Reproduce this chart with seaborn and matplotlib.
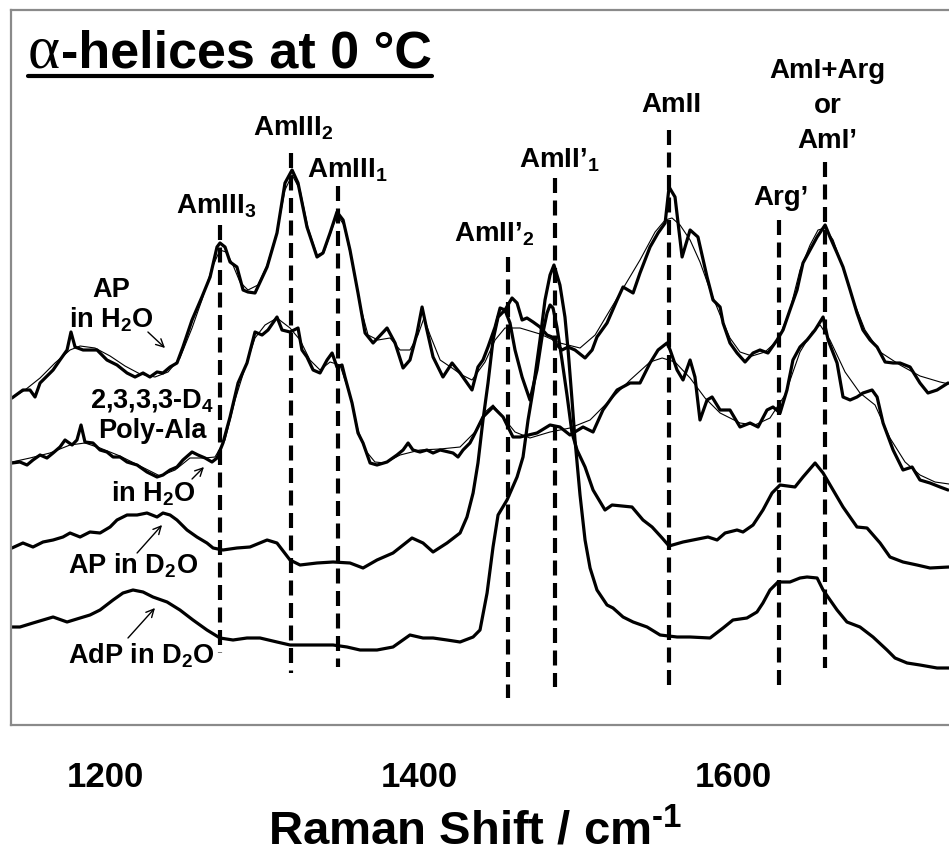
import matplotlib
matplotlib.use("Agg")
import numpy as np
import pandas as pd
import seaborn as sns
import matplotlib.pyplot as plt
import matplotlib.transforms as mtransforms
from matplotlib.lines import Line2D

# ---------------- data (Raman shift in cm-1, stacked intensity, arb. units) ----------------
ap_h2o_x = [1129.3, 1136.3, 1140.8, 1144.0, 1147.2, 1155.5, 1159.9, 1164.4, 1166.9, 1169.5,
            1174.6, 1183.5, 1189.8, 1196.2, 1202.6, 1207.7, 1212.8, 1217.2, 1221.7, 1225.5,
            1230.0, 1234.4, 1238.2, 1244.0, 1250.3, 1255.5, 1259.9, 1261.8, 1265.0, 1268.2,
            1272.6, 1276.5, 1279.6, 1284.1, 1291.8, 1298.1, 1303.2, 1307.7, 1311.5, 1317.2,
            1323.6, 1327.4, 1331.9, 1336.3, 1340.2, 1344.6, 1349.7, 1354.2, 1359.3, 1368.2,
            1373.3, 1378.4, 1382.8, 1387.3, 1390.5, 1393.6, 1397.5, 1403.8, 1409.6, 1414.7,
            1422.3, 1426.1, 1429.3, 1432.5, 1437.0, 1440.2, 1443.3, 1447.8, 1451.0, 1454.2,
            1457.3, 1461.2, 1465.6, 1470.1, 1473.3, 1476.4, 1479.6, 1483.5, 1487.9, 1494.3,
            1498.8, 1501.9, 1508.3, 1514.7, 1518.5, 1524.9, 1529.3, 1535.7, 1540.8, 1545.3,
            1547.8, 1551.6, 1556.1, 1561.2, 1566.2, 1572.0, 1575.8, 1580.3, 1582.2, 1586.6,
            1591.1, 1596.2, 1601.3, 1605.7, 1610.8, 1616.6, 1620.4, 1624.8, 1629.3, 1633.1,
            1637.6, 1642.1, 1647.2, 1650.3, 1654.8, 1658.6, 1663.1, 1667.5, 1671.3, 1675.8,
            1680.3, 1685.4, 1690.5, 1694.9, 1701.3, 1707.6, 1712.7, 1718.5, 1725.5]
ap_h2o_y = [327, 335, 335, 328, 342, 355, 365, 375, 393, 378,
            375, 375, 365, 360, 352, 348, 352, 348, 353, 352,
            358, 362, 378, 405, 428, 448, 478, 482, 478, 463,
            458, 435, 433, 432, 458, 492, 542, 555, 542, 498,
            468, 472, 492, 513, 505, 475, 432, 392, 382, 397,
            382, 357, 365, 392, 418, 395, 368, 348, 362, 352,
            335, 358, 365, 378, 398, 417, 415, 427, 422, 405,
            407, 403, 398, 390, 388, 380, 375, 378, 375, 367,
            375, 388, 402, 425, 438, 432, 452, 478, 492, 502,
            538, 528, 468, 495, 488, 448, 425, 418, 402, 382,
            372, 363, 372, 375, 372, 385, 395, 415, 435, 462,
            475, 488, 500, 488, 472, 458, 435, 412, 395, 385,
            378, 363, 362, 362, 358, 342, 332, 335, 342]

ap_h2o_fit_x = [1129.3, 1137.6, 1147.2, 1156.7, 1166.3, 1172.7, 1182.2, 1191.8, 1201.3, 1210.9,
                1220.4, 1228.7, 1236.3, 1244.0, 1250.3, 1256.7, 1261.8, 1265.6, 1269.5, 1274.5,
                1279.6, 1286.0, 1291.8, 1298.1, 1303.2, 1307.7, 1312.8, 1317.9, 1323.6, 1328.1,
                1332.5, 1336.3, 1340.8, 1345.9, 1351.0, 1356.1, 1362.4, 1370.1, 1376.5, 1382.8,
                1387.9, 1391.7, 1395.6, 1402.0, 1409.6, 1415.9, 1422.3, 1430.6, 1437.0, 1443.3,
                1452.9, 1465.6, 1478.3, 1491.1, 1500.7, 1510.2, 1519.8, 1529.3, 1538.9, 1545.3,
                1549.7, 1554.8, 1561.2, 1567.5, 1573.9, 1580.3, 1586.6, 1593.0, 1600.6, 1608.9,
                1617.2, 1624.8, 1631.2, 1637.6, 1642.7, 1647.2, 1652.3, 1658.6, 1665.0, 1672.6,
                1682.2, 1694.9, 1707.6, 1720.4, 1726.1]
ap_h2o_fit_y = [327, 335, 347, 362, 375, 379, 377, 369, 359, 351,
                348, 353, 367, 397, 425, 457, 475, 473, 462, 443,
                435, 440, 460, 493, 535, 550, 535, 497, 470, 473,
                493, 510, 500, 463, 420, 390, 385, 387, 375, 375,
                390, 407, 390, 365, 357, 350, 345, 363, 385, 397,
                397, 391, 382, 377, 390, 415, 440, 465, 493, 505,
                507, 500, 485, 463, 435, 410, 387, 373, 369, 373,
                385, 415, 455, 480, 495, 497, 485, 457, 425, 395,
                373, 360, 349, 343, 341]

d4_x = [1129.3, 1134.4, 1138.9, 1142.7, 1147.2, 1151.6, 1155.5, 1159.9, 1163.1, 1167.6,
        1170.7, 1173.3, 1175.8, 1180.9, 1185.4, 1189.8, 1193.7, 1198.1, 1202.6, 1209.0,
        1215.3, 1221.7, 1225.5, 1230.0, 1234.4, 1238.2, 1244.0, 1247.8, 1252.3, 1256.7,
        1259.9, 1263.7, 1268.2, 1273.3, 1279.0, 1284.1, 1288.6, 1292.4, 1298.1, 1301.3,
        1306.4, 1311.5, 1314.0, 1317.2, 1321.1, 1325.5, 1330.0, 1333.2, 1336.3, 1339.5,
        1341.4, 1345.9, 1349.7, 1352.9, 1357.4, 1361.8, 1368.2, 1374.5, 1378.4, 1381.6,
        1384.7, 1389.2, 1393.6, 1397.5, 1402.0, 1410.2, 1413.4, 1416.6, 1421.0, 1423.0,
        1427.4, 1429.3, 1435.7, 1442.1, 1448.4, 1452.9, 1463.7, 1472.0, 1478.3, 1484.7,
        1493.0, 1499.4, 1505.7, 1514.7, 1523.0, 1529.3, 1535.7, 1540.8, 1546.5, 1548.5,
        1552.9, 1556.7, 1561.2, 1564.3, 1567.5, 1572.0, 1575.2, 1580.3, 1586.6, 1593.0,
        1599.4, 1604.5, 1610.2, 1614.0, 1618.5, 1622.9, 1626.7, 1631.2, 1635.7, 1640.8,
        1645.9, 1649.1, 1654.8, 1658.6, 1663.1, 1667.5, 1671.3, 1677.1, 1680.3, 1684.1,
        1690.5, 1696.8, 1702.6, 1707.6, 1714.0, 1720.4, 1725.5]
d4_y = [262, 263, 260, 265, 270, 267, 272, 278, 285, 280,
        285, 300, 283, 282, 275, 273, 268, 268, 263, 260,
        253, 248, 250, 255, 258, 265, 273, 270, 267, 263,
        267, 282, 308, 342, 362, 393, 390, 395, 408, 395,
        393, 397, 375, 368, 355, 352, 365, 372, 358, 360,
        348, 322, 292, 282, 262, 260, 263, 270, 275, 282,
        275, 273, 275, 272, 275, 272, 268, 275, 282, 288,
        302, 308, 318, 308, 288, 288, 292, 300, 298, 290,
        298, 293, 315, 335, 342, 342, 362, 375, 382, 375,
        355, 345, 365, 348, 305, 325, 328, 315, 315, 298,
        302, 298, 315, 318, 312, 335, 365, 378, 385, 395,
        408, 385, 362, 328, 325, 328, 332, 335, 328, 302,
        275, 255, 258, 245, 242, 238, 235]

d4_fit_x = [1129.3, 1140.8, 1153.5, 1166.3, 1175.8, 1185.4, 1198.1, 1210.9, 1223.6, 1233.2,
            1242.7, 1252.3, 1258.6, 1265.0, 1271.4, 1277.7, 1284.1, 1290.5, 1298.1, 1306.4,
            1312.8, 1319.1, 1325.5, 1331.9, 1338.2, 1344.6, 1349.7, 1354.2, 1360.5, 1366.9,
            1376.5, 1389.2, 1402.0, 1414.7, 1424.2, 1430.6, 1435.7, 1441.4, 1449.7, 1459.2,
            1472.0, 1484.7, 1497.5, 1510.2, 1523.0, 1535.7, 1543.4, 1551.6, 1561.2, 1570.7,
            1580.3, 1593.0, 1602.5, 1612.1, 1621.6, 1631.2, 1638.9, 1644.0, 1650.3, 1659.9,
            1669.4, 1679.0, 1688.5, 1698.1, 1707.6, 1717.2, 1726.1]
d4_fit_y = [263, 267, 272, 280, 282, 277, 269, 259, 249, 255,
            267, 267, 268, 285, 325, 357, 387, 400, 407, 397,
            385, 365, 355, 363, 360, 330, 295, 275, 263, 262,
            270, 275, 276, 278, 293, 313, 320, 309, 293, 287,
            293, 297, 305, 325, 345, 363, 367, 363, 347, 327,
            312, 302, 300, 307, 330, 373, 393, 400, 385, 353,
            332, 320, 287, 263, 250, 243, 241]

ap_d2o_x = [1129.3, 1136.3, 1142.7, 1149.1, 1155.5, 1161.8, 1166.3, 1172.7, 1179.0, 1185.4,
            1191.8, 1196.2, 1202.6, 1209.0, 1215.3, 1221.7, 1225.5, 1230.0, 1234.4, 1240.8,
            1247.1, 1253.5, 1257.4, 1263.7, 1272.6, 1280.9, 1291.8, 1298.1, 1306.4, 1312.8,
            1323.6, 1333.8, 1344.6, 1352.9, 1361.8, 1372.0, 1384.1, 1391.1, 1397.5, 1406.4,
            1414.7, 1419.1, 1423.0, 1426.1, 1429.3, 1432.5, 1435.7, 1438.9, 1443.3, 1446.5,
            1449.7, 1454.2, 1459.2, 1463.7, 1466.9, 1470.1, 1472.0, 1473.9, 1476.4, 1479.6,
            1482.8, 1486.0, 1489.2, 1494.3, 1499.4, 1507.0, 1511.5, 1524.2, 1531.2, 1537.0,
            1543.4, 1547.8, 1556.7, 1572.6, 1578.4, 1583.5, 1591.1, 1594.9, 1601.3, 1607.6,
            1613.4, 1618.5, 1628.0, 1633.1, 1640.8, 1645.9, 1658.6, 1667.5, 1673.9, 1682.2,
            1688.5, 1696.8, 1705.7, 1714.0, 1726.1]
ap_d2o_y = [177, 182, 178, 183, 185, 188, 192, 188, 193, 192,
            198, 205, 210, 210, 212, 208, 212, 210, 205, 195,
            188, 182, 177, 175, 177, 178, 185, 182, 165, 160,
            162, 163, 162, 157, 165, 172, 187, 182, 173, 182,
            192, 208, 232, 262, 305, 342, 385, 408, 415, 402,
            375, 348, 325, 355, 388, 412, 420, 417, 398, 365,
            330, 292, 275, 258, 235, 215, 220, 218, 205, 198,
            187, 179, 183, 188, 185, 192, 195, 193, 200, 215,
            232, 240, 238, 248, 262, 252, 218, 198, 197, 182,
            168, 163, 160, 157, 158]

adp_d2o_x = [1128.1, 1134.4, 1142.7, 1149.1, 1155.5, 1164.4, 1172.7, 1179.0, 1185.4, 1193.7,
             1200.0, 1206.4, 1212.8, 1219.1, 1228.1, 1236.3, 1244.6, 1253.5, 1261.8, 1270.1,
             1279.0, 1287.3, 1298.1, 1306.4, 1312.8, 1323.6, 1333.8, 1342.7, 1351.0, 1361.8,
             1372.0, 1376.5, 1382.8, 1391.1, 1397.5, 1406.4, 1414.7, 1423.0, 1427.4, 1431.9,
             1435.7, 1438.9, 1444.6, 1451.0, 1454.8, 1458.0, 1461.2, 1465.6, 1468.8, 1472.0,
             1474.5, 1478.3, 1481.5, 1483.5, 1486.0, 1487.9, 1491.1, 1494.3, 1497.5, 1501.9,
             1508.3, 1512.1, 1518.5, 1524.9, 1533.8, 1542.1, 1552.9, 1561.2, 1573.9, 1582.2,
             1588.5, 1597.4, 1603.8, 1607.6, 1612.1, 1617.2, 1624.8, 1631.2, 1635.7, 1642.1,
             1645.9, 1654.8, 1661.1, 1669.4, 1677.7, 1686.6, 1691.7, 1699.4, 1707.6, 1718.5,
             1726.1]
adp_d2o_y = [98, 98, 102, 105, 108, 103, 107, 110, 115, 125,
             132, 135, 133, 128, 123, 115, 105, 95, 87, 85,
             87, 87, 83, 80, 80, 80, 80, 78, 75, 75,
             78, 83, 90, 87, 87, 85, 83, 88, 95, 132,
             178, 210, 225, 248, 268, 305, 335, 385, 425, 450,
             460, 440, 408, 375, 325, 285, 230, 185, 157, 135,
             120, 117, 108, 103, 98, 90, 88, 88, 87, 97,
             105, 107, 113, 122, 135, 143, 143, 147, 148, 147,
             135, 115, 103, 98, 88, 75, 67, 62, 60, 57,
             57]

# band assignments (dashed markers)
band_pos = [1261.8, 1307.0, 1337.0, 1445.2, 1475.2, 1547.8, 1617.8, 1647.2]
band_top = [500, 572, 539, 468, 547, 595, 505, 563]
band_bottom = [72, 52, 58, 27, 38, 36, 36, 57]
band_labels = ["AmIII$_3$", "AmIII$_2$", "AmIII$_1$", "AmII’$_2$", "AmII’$_1$",
               "AmII", "Arg’", "AmI+Arg"]
band_label_x = [1259.3, 1308.6, 1343.0, 1436.6, 1477.7, 1549.4, 1619.1, 1648.7]
band_label_y = [512, 590, 547, 483, 558, 613, 520, 647]
extra_labels = ["or", "AmI’"]
extra_label_x = [1649.0, 1648.7]
extra_label_y = [612, 577]

sample_labels = ["AP", "in H$_2$O", "2,3,3,3-D$_4$", "Poly-Ala", "in H$_2$O",
                 "AP in D$_2$O", "AdP in D$_2$O"]
sample_label_x = [1192.4, 1192.7, 1218.8, 1218.8, 1219.5, 1206.4, 1211.8]
sample_label_y = [428, 397, 317, 287, 223, 152, 62]

arrow_tail_x = [1215.9, 1244.0, 1209.0, 1203.2]
arrow_tail_y = [393, 246, 172, 87]
arrow_head_x = [1226.8, 1251.6, 1224.9, 1220.4]
arrow_head_y = [377, 258, 200, 117]

x_ticks = [1200, 1300, 1400, 1500, 1600, 1700]
x_tick_labels = ["1200", "", "1400", "", "1600", ""]
y_ticks = [58, 172, 286, 400]

# ---------------- style ----------------
sns.set_style("white")
plt.rcParams["font.family"] = ["Liberation Sans", "DejaVu Sans"]
plt.rcParams["text.color"] = "black"
plt.rcParams["axes.labelcolor"] = "black"
plt.rcParams["xtick.color"] = "black"
plt.rcParams["ytick.color"] = "black"
plt.rcParams["mathtext.fontset"] = "custom"
plt.rcParams["mathtext.rm"] = "Liberation Sans:bold"
plt.rcParams["mathtext.it"] = "Liberation Sans:bold"
plt.rcParams["mathtext.bf"] = "Liberation Sans:bold"
plt.rcParams["mathtext.default"] = "regular"

W, H = 949, 857
fig = plt.figure(figsize=(W / 100, H / 100), dpi=100)
fig.patch.set_facecolor("white")
ax = fig.add_axes([11 / W, (H - 725) / H, (960 - 11) / W, (725 - 10) / H])
ax.set_facecolor("white")

series = [
    ("AP in H2O", ap_h2o_x, ap_h2o_y, 2.3),
    ("AP in H2O fit", ap_h2o_fit_x, ap_h2o_fit_y, 0.8),
    ("D4 poly-Ala", d4_x, d4_y, 2.3),
    ("D4 poly-Ala fit", d4_fit_x, d4_fit_y, 0.8),
    ("AP in D2O", ap_d2o_x, ap_d2o_y, 2.3),
    ("AdP in D2O", adp_d2o_x, adp_d2o_y, 2.3),
]
for name, xs, ys, lw in series:
    df = pd.DataFrame({"shift": xs, "intensity": ys})
    sns.lineplot(data=df, x="shift", y="intensity", color="black", linewidth=lw,
                 sort=False, estimator=None, ax=ax, legend=False)

for x, top, bot in zip(band_pos, band_top, band_bottom):
    ax.plot([x, x], [top, bot], color="black", linewidth=3.0,
            linestyle=(0, (3.6, 1.8)), dash_capstyle="butt")

for txt, x, y in zip(band_labels + extra_labels, band_label_x + extra_label_x,
                     band_label_y + extra_label_y):
    ax.text(x, y, txt, fontsize=20, fontweight="bold", color="black",
            ha="center", va="baseline")

for txt, x, y in zip(sample_labels, sample_label_x, sample_label_y):
    ax.text(x, y, txt, fontsize=19.5, fontweight="bold", color="black",
            ha="center", va="baseline")

for tx, ty, hx, hy in zip(arrow_tail_x, arrow_tail_y, arrow_head_x, arrow_head_y):
    ax.annotate("", xy=(hx, hy), xytext=(tx, ty),
                arrowprops=dict(arrowstyle="->", color="black", lw=1.0,
                                shrinkA=0, shrinkB=0, mutation_scale=14))

ax.set_xlim(1128.7, 1733.1)
ax.set_ylim(0, 715)
ax.set_xlabel("")
ax.set_ylabel("")
ax.set_xticks(x_ticks)
ax.set_xticklabels(x_tick_labels)
ax.set_yticks(y_ticks)
ax.set_yticklabels([])
for s in ax.spines.values():
    s.set_color("#8a8a8a")
    s.set_linewidth(1.6)
ax.spines["right"].set_visible(False)
ax.tick_params(axis="both", direction="out", length=5, width=1.0, color="#8a8a8a",
               labelcolor="black")
ax.tick_params(axis="x", labelsize=25, pad=21)
for lbl in ax.get_xticklabels():
    lbl.set_fontweight("bold")
    lbl.set_color("black")
    lbl.set_transform(lbl.get_transform() +
                      mtransforms.ScaledTranslation(-18 / 100, 0, fig.dpi_scale_trans))

# title
t1 = fig.text(28 / W, 1 - 68 / H, "α", fontsize=44, color="black",
              family=["Liberation Serif", "DejaVu Serif"], va="baseline", ha="left")
fig.canvas.draw()
bb1 = t1.get_window_extent()
t2 = fig.text((bb1.x1 + 1) / W, 1 - 68 / H, "-helices at 0 °C", fontsize=37.5,
              fontweight="bold", color="black", va="baseline", ha="left")
fig.canvas.draw()
bb2 = t2.get_window_extent()
fig.add_artist(Line2D([bb1.x0 / W, bb2.x1 / W], [1 - 76 / H, 1 - 76 / H],
                      transform=fig.transFigure, color="black", linewidth=3.0))

fig.text(475 / W, 1 - 845 / H, "Raman Shift / cm$^{\\text{-1}}$", fontsize=34,
         fontweight="bold", color="black", va="baseline", ha="center")

fig.savefig("out.png", dpi=100, facecolor="white")
